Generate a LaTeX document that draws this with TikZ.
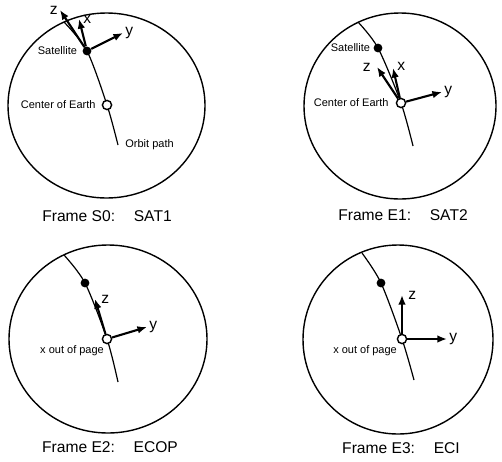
\documentclass[tikz,border=0pt]{standalone}
\usepackage{fontspec}
\setmainfont{Liberation Sans}
\usetikzlibrary{arrows.meta,positioning}

\begin{document}
\begin{tikzpicture}[x=0.5pt,y=-0.5pt,
  earth/.style={line width=0.7pt},
  orbit/.style={line width=0.6pt},
  satdot/.style={circle,fill=black,inner sep=0pt,minimum size=4.4pt},
  ctrdot/.style={circle,draw,fill=white,line width=0.7pt,inner sep=0pt,minimum size=4.6pt},
  axis/.style={line width=1.05pt,-{Latex[length=4.8pt,width=3.8pt]}},
  axlbl/.style={font=\fontsize{7.8}{8}\selectfont,inner sep=1pt},
  lbl/.style={font=\fontsize{5.5}{6}\selectfont,inner sep=1pt},
  ttl/.style={font=\fontsize{7.8}{9}\selectfont}]
  \useasboundingbox (0,0) rectangle (502,461);

  \draw[earth] (106.5,105.5) ellipse [x radius=98.5, y radius=92.5];
  \coordinate (topA) at (64,22);
  \coordinate (endA) at (118,145);
  \draw[orbit] plot[smooth] coordinates {(topA) (87,51) (107,105) (endA)};
  \node[satdot] (satA) at (87,51) {};
  \node[ctrdot] (ctrA) at (107,105) {};
  \coordinate (zA) at (60,10);
  \coordinate (xA) at (79,19);
  \coordinate (yA) at (123,33);
  \draw[axis] (satA) -- (zA);
  \draw[axis] (satA) -- (xA);
  \draw[axis] (satA) -- (yA);
  \node[axlbl,left] (zAl) at (zA) {z};
  \node[axlbl,right=1pt of xA] (xAl) {x};
  \node[axlbl,right] (yAl) at (yA) {y};
  \node[lbl,left=1.4pt of satA] (satAl) {Satellite};
  \node[lbl,left=1.9pt of ctrA] (ctrAl) {Center of Earth};
  \node[lbl,right=2.5pt of endA] (endAl) {Orbit path};
  \node[ttl] (ttlA) at (107,216) {Frame S0:\hspace{1.2em}SAT1};

  \draw[earth] (400,106) ellipse [x radius=96, y radius=93];
  \coordinate (topB) at (358,22);
  \coordinate (endB) at (413,146);
  \draw[orbit] plot[smooth] coordinates {(topB) (378,48) (401,103) (endB)};
  \node[satdot] (satB) at (378,48) {};
  \node[ctrdot] (ctrB) at (401,103) {};
  \coordinate (zB) at (377,67);
  \coordinate (xB) at (393,68);
  \coordinate (yB) at (442,92);
  \draw[axis] (ctrB) -- (zB);
  \draw[axis] (ctrB) -- (xB);
  \draw[axis] (ctrB) -- (yB);
  \node[axlbl,left=2pt of zB] (zBl) {z};
  \node[axlbl,right=1pt of xB,yshift=1pt] (xBl) {x};
  \node[axlbl,right] (yBl) at (yB) {y};
  \node[lbl,left=0.4pt of satB] (satBl) {Satellite};
  \node[lbl,left=2.4pt of ctrB] (ctrBl) {Center of Earth};
  \node[ttl] (ttlB) at (403,215) {Frame E1:\hspace{1.2em}SAT2};

  \draw[earth] (108,339) ellipse [x radius=99, y radius=94];
  \coordinate (topC) at (64,255);
  \coordinate (endC) at (118,382);
  \draw[orbit] plot[smooth] coordinates {(topC) (85,283) (107,339) (endC)};
  \node[satdot] (satC) at (85,283) {};
  \node[ctrdot] (ctrC) at (107,339) {};
  \coordinate (zC) at (95,299);
  \coordinate (yC) at (147,327);
  \draw[axis] (ctrC) -- (zC);
  \draw[axis] (ctrC) -- (yC);
  \node[axlbl,right=2pt of zC] (zCl) {z};
  \node[axlbl,right] (yCl) at (yC) {y};
  \node[lbl,anchor=north east] (ctrCl) at ([xshift=1.5pt]ctrC.south west) {x out of page};
  \node[ttl] (ttlC) at (110,447) {Frame E2:\hspace{1.2em}ECOP};

  \draw[earth] (398,339.5) ellipse [x radius=95, y radius=94.5];
  \coordinate (topD) at (362,253);
  \coordinate (endD) at (414,380);
  \draw[orbit] plot[smooth] coordinates {(topD) (381,283) (402,339) (endD)};
  \node[satdot] (satD) at (381,283) {};
  \node[ctrdot] (ctrD) at (402,339) {};
  \coordinate (zD) at (402,295);
  \coordinate (yD) at (447,339);
  \draw[axis] (ctrD) -- (zD);
  \draw[axis] (ctrD) -- (yD);
  \node[axlbl,right=2pt of zD] (zDl) {z};
  \node[axlbl,right] (yDl) at (yD) {y};
  \node[lbl,anchor=north east] (ctrDl) at ([xshift=0.5pt]ctrD.south west) {x out of page};
  \node[ttl] (ttlD) at (401,448) {Frame E3:\hspace{1.2em}ECI};
\end{tikzpicture}
\end{document}
